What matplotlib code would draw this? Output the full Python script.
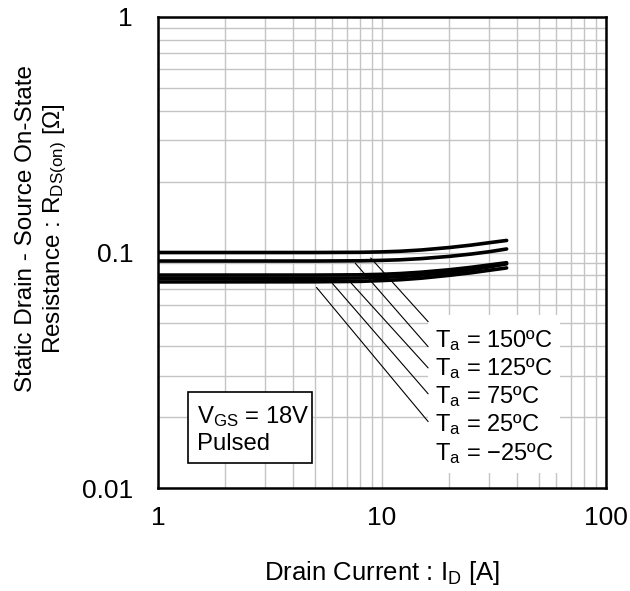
#!/usr/bin/env python3
"""
Static drain-source on-state resistance vs drain current (log-log).
"""
import matplotlib
matplotlib.use("Agg")
import matplotlib.pyplot as plt
from matplotlib.patches import Rectangle

plt.rcParams["font.family"] = ["Liberation Sans", "DejaVu Sans"]
plt.rcParams["mathtext.fontset"] = "custom"
plt.rcParams["mathtext.rm"] = "Liberation Sans"
plt.rcParams["mathtext.it"] = "Liberation Sans"

# drain current [A] at which the curves were read
current = [1, 5, 8, 10, 12, 15, 20, 25, 30, 36]

# R_DS(on) [ohm] per ambient temperature
r_150 = [0.1000, 0.1000, 0.1002, 0.1006, 0.1012, 0.1025, 0.1050, 0.1075, 0.1100, 0.1125]
r_125 = [0.0920, 0.0920, 0.0922, 0.0926, 0.0931, 0.0942, 0.0963, 0.0985, 0.1007, 0.1035]
r_75 = [0.0802, 0.0802, 0.0804, 0.0808, 0.0814, 0.0825, 0.0845, 0.0865, 0.0885, 0.0905]
r_25 = [0.0777, 0.0777, 0.0779, 0.0784, 0.0790, 0.0802, 0.0823, 0.0845, 0.0868, 0.0895]
r_m25 = [0.0750, 0.0751, 0.0754, 0.0760, 0.0766, 0.0778, 0.0800, 0.0820, 0.0840, 0.0860]

temp_labels = ["150", "125", "75", "25", "\u221225"]
# where each leader line leaves its curve (current, resistance)
leader_start = [(8.9, 0.0948), (7.6, 0.0900), (7.3, 0.0740), (6.0, 0.0740), (5.1, 0.0711)]

fig = plt.figure(figsize=(6.3, 5.91), dpi=100)
ax = fig.add_axes([158 / 630, 1 - 488 / 591, 448 / 630, 471 / 591])

ax.set_xscale("log")
ax.set_yscale("log")
ax.set_xlim(1, 100)
ax.set_ylim(0.01, 1)

ax.grid(True, which="both", color="#c4c4c4", lw=1.0)
ax.set_axisbelow(True)
ax.tick_params(which="both", length=0)
ax.tick_params(axis="y", pad=18, labelsize=19)
ax.tick_params(axis="x", pad=13, labelsize=19)
ax.set_xticks([1, 10, 100])
ax.set_xticklabels(["1", "10", "100"])
ax.set_yticks([0.01, 0.1, 1])
ax.set_yticklabels(["0.01", "0.1", "1"])
for s in ax.spines.values():
    s.set_linewidth(1.8)

for r in [r_150, r_125, r_75, r_25, r_m25]:
    ax.plot(current, r, color="black", lw=2.6, solid_capstyle="round",
            solid_joinstyle="round", zorder=4)

# white panel behind the temperature labels
ax.add_patch(Rectangle((0.603, 0.032), 0.294, 0.335, transform=ax.transAxes,
                       facecolor="white", edgecolor="none", zorder=2))

end_y = [0.353, 0.300, 0.255, 0.200, 0.141]
base_y = [(488 - b) / 471 for b in [347, 375, 403, 431, 460]]
for lab, start, ey, by in zip(temp_labels, leader_start, end_y, base_y):
    ax.annotate("", xy=start, xycoords="data", xytext=(0.603, ey),
                textcoords="axes fraction",
                arrowprops=dict(arrowstyle="-", lw=0.8, color="black",
                                shrinkA=0, shrinkB=0), zorder=3)
    ax.text(0.618, by, r"T$_\mathregular{a}$ = " + lab + "\u00baC",
            transform=ax.transAxes, fontsize=17, va="baseline", ha="left",
            zorder=5)

# condition box
ax.add_patch(Rectangle((0.066, 0.0537), 0.278, 0.151, transform=ax.transAxes,
                       facecolor="white", edgecolor="black", lw=1.2, zorder=5))
ax.text(0.0863, (488 - 423) / 471, r"V$_\mathregular{GS}$ = 18V",
        transform=ax.transAxes, fontsize=17.2, va="baseline", zorder=6)
ax.text(0.0863, (488 - 450) / 471, "Pulsed",
        transform=ax.transAxes, fontsize=17.2, va="baseline", zorder=6)

fig.text(382 / 630, 1 - 573 / 591, r"Drain Current : I$_\mathregular{D}$ [A]",
         fontsize=18.5, ha="center", va="center")
fig.text(42 / 630, 1 - 229 / 591,
         "Static Drain - Source On-State\n"
         r"Resistance : R$_\mathregular{DS(on)}$ " + "[\u03a9]",
         fontsize=17.5, rotation=90, ha="center", va="center",
         multialignment="center", linespacing=1.2)

fig.savefig("out.png", dpi=100)
